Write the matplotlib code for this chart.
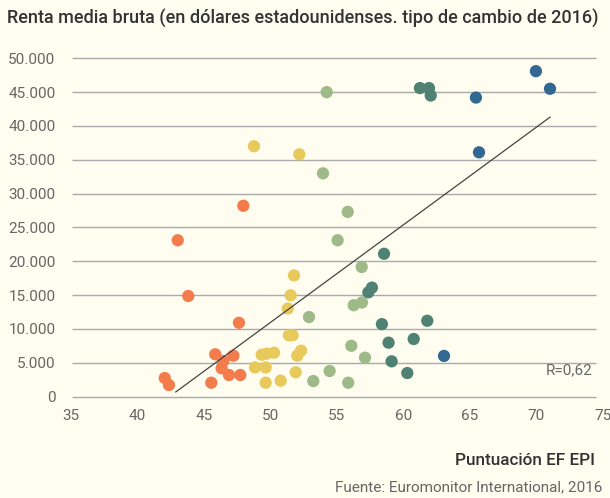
import matplotlib
matplotlib.use("Agg")
import matplotlib.pyplot as plt
from matplotlib.ticker import FuncFormatter

plt.rcParams['font.family'] = ['Roboto', 'DejaVu Sans']

# EF EPI score (x) and gross mean income in USD (y), by group
orange_x = [47.98, 43.05, 43.84, 47.65, 45.87, 47.23, 46.47, 46.35, 46.9, 47.75, 45.57, 42.07, 42.39]
orange_y = [28200, 23100, 14860, 10900, 6240, 6030, 5250, 4170, 3180, 3180, 2040, 2730, 1700]

yellow_x = [48.78, 52.19, 51.79, 51.54, 51.32, 51.41, 51.69, 49.36, 49.74, 50.29,
            52.32, 52.04, 48.86, 49.66, 51.92, 49.66, 50.79]
yellow_y = [37000, 35800, 17900, 14960, 13000, 9050, 9050, 6180, 6330, 6480,
            6780, 6030, 4300, 4300, 3580, 2040, 2340]

lgreen_x = [54.25, 53.97, 55.83, 55.07, 56.88, 56.28, 56.9, 52.92, 56.1, 57.13, 54.47, 53.24, 55.87]
lgreen_y = [45000, 33000, 27300, 23100, 19150, 13500, 13900, 11750, 7500, 5740, 3770, 2290, 2040]

teal_x = [61.26, 61.94, 62.07, 58.56, 57.65, 57.38, 58.4, 61.81, 58.9, 60.79, 59.13, 60.31]
teal_y = [45600, 45600, 44500, 21100, 16100, 15400, 10700, 11200, 7960, 8500, 5200, 3470]

blue_x = [69.98, 71.04, 65.47, 65.7, 63.07]
blue_y = [48100, 45500, 44200, 36100, 6000]

trend_x = [42.9, 71.04]
trend_y = [670, 41300]

x_ticks = [35, 40, 45, 50, 55, 60, 65, 70, 75]
y_ticks = [0, 5000, 10000, 15000, 20000, 25000, 30000, 35000, 40000, 45000, 50000]

bg = "#fefdf0"
fig = plt.figure(figsize=(6.1, 4.98), dpi=100, facecolor=bg)
ax = fig.add_axes([0.1159, 0.2038, 0.8721, 0.6791], facecolor=bg)

ax.hlines(y_ticks, 35.1, 74.5, color="#aaaaaa", linewidth=1.0, zorder=1, clip_on=False)

groups = [
    (orange_x, orange_y, "#f47b4c"),
    (yellow_x, yellow_y, "#e8c95b"),
    (lgreen_x, lgreen_y, "#9dba88"),
    (teal_x, teal_y, "#4f8273"),
    (blue_x, blue_y, "#336893"),
]
for gx, gy, c in groups:
    ax.scatter(gx, gy, s=78, color=c, edgecolors="none", zorder=3, clip_on=False)

# regression line
ax.plot(trend_x, trend_y, color="#444444", linewidth=0.9, zorder=4)

ax.set_xlim(35, 75)
ax.set_ylim(0, 50000)
ax.set_xticks(x_ticks)
ax.set_yticks(y_ticks)
ax.yaxis.set_major_formatter(FuncFormatter(lambda v, p: "0" if v == 0 else f"{int(v):,}".replace(",", ".")))

for s in ax.spines.values():
    s.set_visible(False)
ax.tick_params(length=0, labelsize=11, labelcolor="#666666")
ax.tick_params(axis="y", pad=11)
ax.tick_params(axis="x", pad=9)

ax.text(74.27, 3900, "R=0,62", ha="right", va="center", fontsize=11, color="#666666")

fig.text(7 / 610, 1 - 18 / 498, "Renta media bruta (en dólares estadounidenses. tipo de cambio de 2016)",
         ha="left", va="center", fontsize=13, fontweight="medium", color="#333333")
fig.text(595 / 610, 1 - 460 / 498, "Puntuación EF EPI", ha="right", va="center",
         fontsize=12.3, fontweight="medium", color="#333333")
fig.text(602 / 610, 1 - 487 / 498, "Fuente: Euromonitor International, 2016", ha="right", va="center",
         fontsize=11, color="#666666")

fig.savefig("out.png", dpi=100, facecolor=bg)
